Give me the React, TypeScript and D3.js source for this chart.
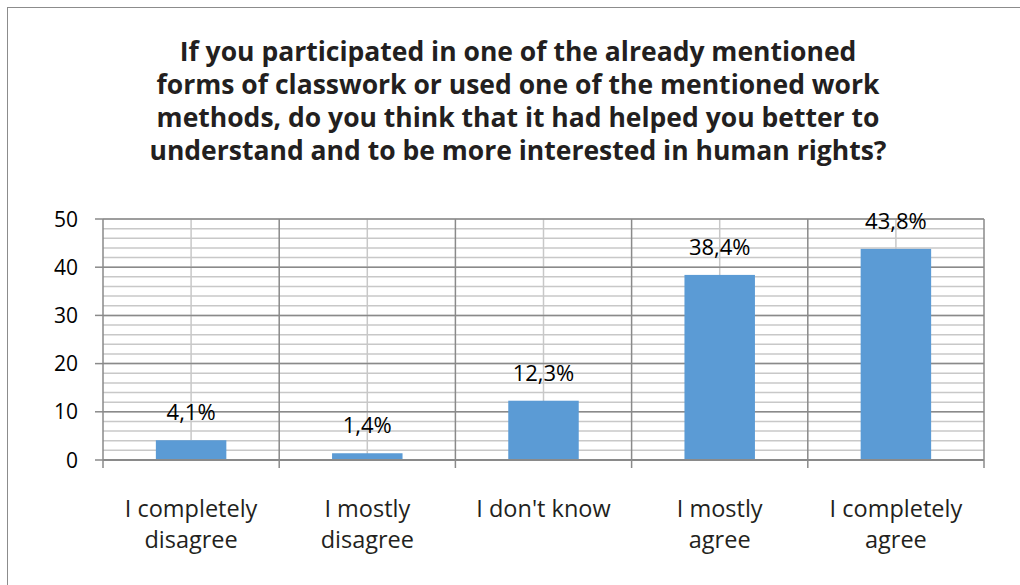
import React from "react";
import * as d3 from "d3";

const categories: string[][] = [
  ["I completely", "disagree"],
  ["I mostly", "disagree"],
  ["I don't know"],
  ["I mostly", "agree"],
  ["I completely", "agree"],
];
const values: number[] = [4.1, 1.4, 12.3, 38.4, 43.8];
const valueLabels: string[] = ["4,1%", "1,4%", "12,3%", "38,4%", "43,8%"];
const yTicks: number[] = [0, 10, 20, 30, 40, 50];
const titleLines: string[] = [
  "If you participated in one of the already mentioned",
  "forms of classwork or used one of the mentioned work",
  "methods, do you think that it had helped you better to",
  "understand and to be more interested in human rights?",
];

const W = 1020;
const H = 585;
const plot = { left: 103, right: 984, top: 219, bottom: 460 };
const FONT = "'Open Sans', 'Noto Sans', sans-serif";

export default function App() {
  const x = d3
    .scaleBand<number>()
    .domain(d3.range(values.length))
    .range([plot.left, plot.right])
    .paddingInner(0)
    .paddingOuter(0);
  const y = d3.scaleLinear().domain([0, 50]).range([plot.bottom, plot.top]);
  const minorTicks = d3.range(0, 50.001, 2);
  const bw = x.bandwidth();
  const barW = bw * 0.4;

  return (
    <svg
      width={W}
      height={H}
      style={{ position: "absolute", left: 0, top: 0, background: "#fff" }}
      fontFamily={FONT}
    >
      <rect x={7.5} y={7.5} width={W + 10} height={H + 10} fill="#fff" stroke="#8c8c8c" strokeWidth={1} />

      {titleLines.map((t, i) => (
        <text
          key={i}
          x={518}
          y={61 + i * 33}
          textAnchor="middle"
          fontSize={26.5}
          fontWeight={700}
          fill="#231f20"
        >
          {t}
        </text>
      ))}

      {/* minor horizontal grid */}
      {minorTicks.map((v) => (
        <line key={"m" + v} x1={plot.left} x2={plot.right} y1={y(v)} y2={y(v)} stroke="#c8c8c8" strokeWidth={1.5} />
      ))}
      {/* vertical minor grid at category centers */}
      {values.map((_, i) => (
        <line
          key={"vc" + i}
          x1={x(i)! + bw / 2}
          x2={x(i)! + bw / 2}
          y1={plot.top}
          y2={plot.bottom}
          stroke="#c8c8c8"
          strokeWidth={1.5}
        />
      ))}
      {/* major horizontal grid */}
      {yTicks.map((v) => (
        <line key={"M" + v} x1={plot.left} x2={plot.right} y1={y(v)} y2={y(v)} stroke="#8a8a8a" strokeWidth={1.5} />
      ))}
      {/* vertical major grid at category boundaries */}
      {d3.range(values.length + 1).map((i) => {
        const xx = plot.left + i * bw;
        return (
          <line key={"vb" + i} x1={xx} x2={xx} y1={plot.top} y2={plot.bottom + 8} stroke="#8a8a8a" strokeWidth={1.5} />
        );
      })}

      {/* bars */}
      {values.map((v, i) => (
        <rect
          key={"b" + i}
          x={x(i)! + (bw - barW) / 2}
          y={y(v)}
          width={barW}
          height={plot.bottom - y(v)}
          fill="#5b9bd5"
        />
      ))}

      {/* y-axis ticks */}
      {yTicks.map((v) => (
        <g key={"yt" + v}>
          <line x1={plot.left - 8} x2={plot.left} y1={y(v)} y2={y(v)} stroke="#8a8a8a" strokeWidth={1.5} />
          <text x={78} y={y(v) + 7.5} textAnchor="end" fontSize={21} fill="#000">
            {v}
          </text>
        </g>
      ))}
      <line x1={plot.left} x2={plot.right} y1={plot.bottom} y2={plot.bottom} stroke="#8a8a8a" strokeWidth={2} />

      {/* value labels */}
      {values.map((v, i) => (
        <text
          key={"vl" + i}
          x={x(i)! + bw / 2}
          y={y(v) - 20}
          textAnchor="middle"
          fontSize={22}
          fill="#000"
        >
          {valueLabels[i]}
        </text>
      ))}

      {/* category labels */}
      {categories.map((lines, i) =>
        lines.map((l, j) => (
          <text
            key={"c" + i + "-" + j}
            x={x(i)! + bw / 2}
            y={517 + j * 31}
            textAnchor="middle"
            fontSize={23.5}
            fill="#231f20"
          >
            {l}
          </text>
        ))
      )}
    </svg>
  );
}
